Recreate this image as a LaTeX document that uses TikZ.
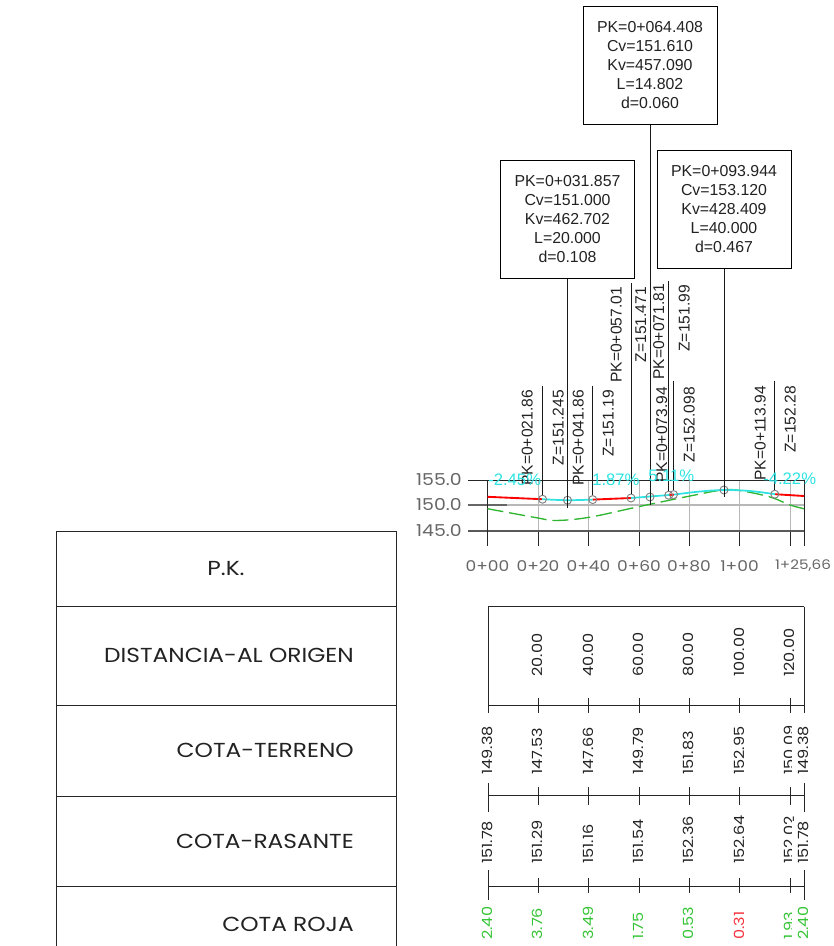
\documentclass[tikz,border=0pt]{standalone}
\usepackage{fontspec}
\usepackage{xcolor}
\setmainfont{Liberation Sans}
\newfontfamily\tablefont[FakeStretch=1.15]{Poppins}
\definecolor{inkgray}{HTML}{222222}
\definecolor{axisgray}{HTML}{666666}
\definecolor{gridgray}{HTML}{B8B8B8}
\definecolor{markgray}{HTML}{808080}
\definecolor{slopecyan}{HTML}{2FE3E3}
\definecolor{rojagreen}{HTML}{35C435}
\definecolor{rojared}{HTML}{F5333F}
\definecolor{terreno}{HTML}{2FB52F}
\tikzset{
  callout/.style={draw,line width=0.75pt,fill=white,minimum width=100.5pt,minimum height=88.5pt,align=center,inner sep=0pt,font=\fontsize{11.9}{14.25}\selectfont,text=inkgray},
  tagtext/.style={rotate=90,anchor=mid east,inner sep=0pt,font=\fontsize{11.7}{14}\selectfont,text=inkgray},
  slopetext/.style={anchor=mid west,inner sep=0pt,font=\fontsize{12.5}{14}\selectfont,text=slopecyan},
  axistext/.style={inner sep=0pt,font=\tablefont\fontsize{11.1}{13}\selectfont,text=axisgray},
  ylabeltext/.style={axistext,anchor=mid east,font=\tablefont\fontsize{12.3}{14}\selectfont},
  rowtext/.style={anchor=mid east,inner sep=0pt,font=\tablefont\fontsize{15.2}{17}\selectfont,text=inkgray},
  valtext/.style={rotate=90,anchor=mid west,inner sep=0pt,font=\tablefont\fontsize{10.5}{12}\selectfont,text=inkgray},
  valmask/.style={valtext,fill=white,inner xsep=0pt,inner ysep=4.5pt},
  leader/.style={line width=0.75pt,black!90},
  tickline/.style={line width=0.75pt,black!85},
  vertexmark/.style={draw=markgray,line width=0.7pt,circle,minimum size=6pt,inner sep=0pt}
}
\begin{document}
\begin{tikzpicture}[x=0.75pt,y=0.75pt,yscale=-1,xscale=1]
\useasboundingbox (0,0) rectangle (834,946);
% table on the left
\draw[tickline] (56,531) -- (396,531);
\draw[tickline] (56,606.5) -- (396,606.5);
\draw[tickline] (56,705) -- (396,705);
\draw[tickline] (56,796) -- (396,796);
\draw[tickline] (56,886) -- (396,886);
\draw[tickline] (56,531) -- (56,946);
\draw[tickline] (396,531) -- (396,946);
\draw (226,572) node (rowpk) [rowtext,anchor=mid] {P.K.};
\draw (354,659) node (rowdist) [rowtext] {DISTANCIA-AL ORIGEN};
\draw (354,754) node (rowterreno) [rowtext] {COTA-TERRENO};
\draw (354,845) node (rowrasante) [rowtext] {COTA-RASANTE};
\draw (354,928) node (rowroja) [rowtext] {COTA ROJA};
% grid of the profile
\foreach \gx in {538,588.5,639,689,739.5,790} {
  \draw[gridgray,line width=0.7pt] (\gx,480) -- (\gx,531);
  \draw[tickline] (\gx,531) -- (\gx,546);
}
\draw[gridgray,line width=0.8pt] (468,505) -- (804,505);
\draw[axisgray,line width=0.8pt] (468,505) -- (507,505);
\draw[black!85,line width=0.75pt] (468,480) -- (804,480);
\draw[black!65,line width=0.85pt] (468,531) -- (804,531);
\draw[tickline] (487.5,480) -- (487.5,546);
\draw[tickline] (804,480) -- (804,546);
\draw (462,482) node (ytop) [ylabeltext] {155.0};
\draw (462,507) node (ymid) [ylabeltext] {150.0};
\draw (462,533) node (ylow) [ylabeltext] {145.0};
\draw (487.5,566) node (stazero) [axistext] {0+00};
\draw (538,566) node (statwenty) [axistext] {0+20};
\draw (588.5,566) node (staforty) [axistext] {0+40};
\draw (639,566) node (stasixty) [axistext] {0+60};
\draw (689,566) node (staeighty) [axistext] {0+80};
\draw (739.5,566) node (stahundred) [axistext] {1+00};
\draw (803,566) node (staend) [axistext,font=\tablefont\fontsize{9.9}{13}\selectfont] {1+25,66};
% terrain and grade
\draw[terreno,line width=1pt,dash pattern=on 12pt off 4.5pt] plot[smooth,tension=0.6] coordinates {(487.5,508.7) (538,518) (555,520.5) (588.5,517.4) (639,506.6) (689,496.2) (722,490) (739.5,490.5) (770,497) (790,505) (804,508.7)};
\draw[red,line width=1.4pt] (487.5,496.8) -- (542,499.2);
\draw[red,line width=1.4pt] (592.7,499.6) -- (631,498);
\draw[red,line width=1.4pt] (669,495) -- (674,494.6);
\draw[red,line width=1.4pt] (775,494.2) -- (804,496);
\draw[slopecyan,line width=1.3pt] plot[smooth,tension=0.6] coordinates {(542,499.2) (567,500.2) (592.7,499.6)};
\draw[slopecyan,line width=1.3pt] (631,498) -- (669,495);
\draw[slopecyan,line width=1.3pt] plot[smooth,tension=0.6] coordinates {(674,494.6) (700,491.5) (724,490) (750,491) (775,494.2)};
% vertex marks
\draw (542.5,499.2) node (marka) [vertexmark] {};
\draw (567.5,500.2) node (markb) [vertexmark] {};
\draw (592.7,499.6) node (markc) [vertexmark] {};
\draw (631,498) node (markd) [vertexmark] {};
\draw (650,497) node (marke) [vertexmark] {};
\draw (668.7,495.2) node (markf) [vertexmark] {};
\draw (673.5,494.6) node (markg) [vertexmark] {};
\draw (724,490) node (markh) [vertexmark] {};
\draw (774.8,494.2) node (marki) [vertexmark] {};
% leaders of the tags
\coordinate (topa) at (542.5,386);
\coordinate (topc) at (592.7,386);
\coordinate (topd) at (631,283);
\coordinate (topf) at (668.7,281);
\coordinate (topg) at (673.5,381);
\coordinate (topi) at (774.8,381);
\coordinate (endb) at (567.5,508);
\coordinate (ende) at (650,505);
\coordinate (endh) at (724,497);
\draw[leader] (topa) -- (marka);
\draw[leader] (topc) -- (markc);
\draw[leader] (topd) -- (markd);
\draw[leader] (topf) -- (markf);
\draw[leader] (topg) -- (markg);
\draw[leader] (topi) -- (marki);
% call out boxes
\draw (650,65) node (boxb) [callout] {PK=0+064.408\\Cv=151.610\\Kv=457.090\\L=14.802\\d=0.060};
\draw (567.5,219) node (boxa) [callout] {PK=0+031.857\\Cv=151.000\\Kv=462.702\\L=20.000\\d=0.108};
\draw (724,209.5) node (boxc) [callout] {PK=0+093.944\\Cv=153.120\\Kv=428.409\\L=40.000\\d=0.467};
\draw[leader] (boxa.south) -- (endb);
\draw[leader] (boxb.south) -- (ende);
\draw[leader] (boxc.south) -- (endh);
% rotated tags
\draw (529,390) node (tagpka) [tagtext] {PK=0+021.86};
\draw (560,390) node (tagza) [tagtext] {Z=151.245};
\draw (580,390) node (tagpkb) [tagtext] {PK=0+041.86};
\draw (610,390) node (tagzb) [tagtext] {Z=151.19};
\draw (618,287) node (tagpkc) [tagtext] {PK=0+057.01};
\draw (642.7,287) node (tagzc) [tagtext] {Z=151.471};
\draw (660.5,284) node (tagpkd) [tagtext] {PK=0+071.81};
\draw (686,285) node (tagzd) [tagtext] {Z=151.99};
\draw (663.7,387) node (tagpke) [tagtext] {PK=0+073.94};
\draw (691,387) node (tagze) [tagtext] {Z=152.098};
\draw (762,386) node (tagpkf) [tagtext] {PK=0+113.94};
\draw (792,386) node (tagzf) [tagtext] {Z=152.28};
% slopes
\draw (488,481.5) node (slopea) [slopetext] {-2.45\%};
\draw (592,482) node (slopeb) [slopetext] {1.87\%};
\draw (648,478) node (slopec) [slopetext] {5.11\%};
\draw (763,481) node (sloped) [slopetext] {-4.22\%};
% band rows
\draw[tickline] (488,606.5) -- (804,606.5);
\draw[tickline] (488,606.5) -- (488,713);
\draw[tickline] (804,606.5) -- (804,713);
\foreach \rowy/\ticktop/\tickbot in {705/698/713,795.5/787/805,886/878/893} {
  \draw[tickline] (488,\rowy) -- (804,\rowy);
  \foreach \gx in {538,588.5,639,689,739.5,790} {
    \draw[tickline] (\gx,\ticktop) -- (\gx,\tickbot);
  }
}
\draw[tickline] (488,783) -- (488,812);
\draw[tickline] (804,783) -- (804,812);
\draw[tickline] (488,870) -- (488,900);
\draw[tickline] (804,870) -- (804,900);
% values of the rows
\foreach \gx/\dist/\terr/\rasa/\roja/\idx in {539/20.00/147.53/151.29/3.76/a,589.5/40.00/147.66/151.16/3.49/b,640/60.00/149.79/151.54/1.75/c,690/80.00/151.83/152.36/0.53/d,791/120.00/150.09/152.02/1.93/f} {
  \draw (\gx,677) node (dist\idx) [valtext] {\dist};
  \draw (\gx,775) node (terr\idx) [valtext] {\terr};
  \draw (\gx,864) node (rasa\idx) [valtext] {\rasa};
  \draw (\gx,940) node (roja\idx) [valtext,text=rojagreen] {\roja};
}
\draw (740.5,677) node (diste) [valtext] {100.00};
\draw (740.5,775) node (terre) [valtext] {152.95};
\draw (740.5,864) node (rasae) [valtext] {152.64};
\draw (740.5,940) node (rojae) [valtext,text=rojared] {0.31};
\draw (488.5,775) node (terrzero) [valtext] {149.38};
\draw (488.5,864) node (rasazero) [valtext] {151.78};
\draw (488.5,940) node (rojazero) [valtext,text=rojagreen] {2.40};
\draw (805,775) node (terrlast) [valmask] {149.38};
\draw (805,864) node (rasalast) [valmask] {151.78};
\draw (805,940) node (rojalast) [valmask,text=rojagreen] {2.40};
\end{tikzpicture}
\end{document}
